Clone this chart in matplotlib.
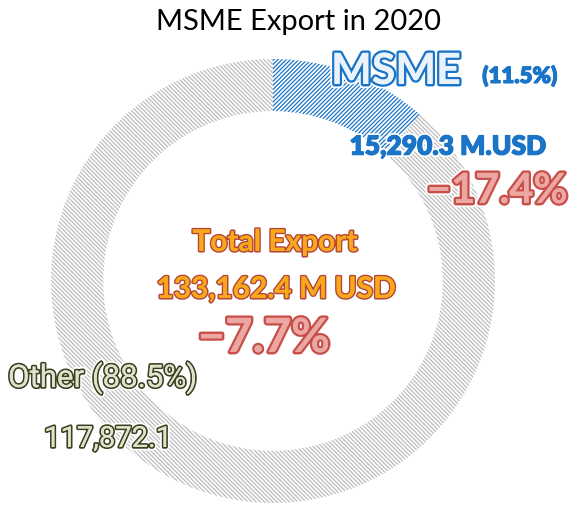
import matplotlib
matplotlib.use("Agg")
import matplotlib.pyplot as plt
import matplotlib.patheffects as pe

# ------------------------------------------------------------
# Data
# ------------------------------------------------------------
segments = ["MSME", "Other"]
shares = [11.5, 88.5]
values_musd = [15290.3, 117872.1]
total_musd = 133162.4
growth_msme = -17.4
growth_total = -7.7

title = "MSME Export in 2020"

# ------------------------------------------------------------
# Style
# ------------------------------------------------------------
BLUE = "#1a74c7"
GRAY = "#bdbdbd"
RED = "#c8504b"
ORANGE = "#f7a81c"
DARKRED = "#b4453a"
OLIVE = "#3a4020"

plt.rcParams["hatch.linewidth"] = 0.9
plt.rcParams["font.family"] = ["Lato", "DejaVu Sans"]

W, H = 571, 510
fig = plt.figure(figsize=(W / 100, H / 100), dpi=100)

# donut centre (273, 282) px, outer radius 222 px
cx, cy, r = 273, 282, 222
ax = fig.add_axes([(cx - r) / W, (H - cy - r) / H, 2 * r / W, 2 * r / H])

wedges, _ = ax.pie(
    shares,
    startangle=90,
    counterclock=False,
    radius=1.0,
    wedgeprops=dict(width=0.235, linewidth=0),
)
wedges[0].set_facecolor("white")
wedges[0].set_edgecolor(BLUE)
wedges[0].set_hatch("////////")
wedges[1].set_facecolor("white")
wedges[1].set_edgecolor(GRAY)
wedges[1].set_hatch("\\\\\\\\\\\\\\\\")
ax.set_xlim(-1, 1)
ax.set_ylim(-1, 1)
ax.axis("off")


def px(x, y):
    return x / W, 1 - y / H


def outline(fg, lw, halo="white"):
    return [pe.withStroke(linewidth=lw + 2.5, foreground=halo),
            pe.withStroke(linewidth=lw, foreground=fg), pe.Normal()]


fig.text(*px(298, 22), title, ha="center", va="center", fontsize=21, color="black")

# MSME labels
fig.text(*px(396, 72), segments[0], ha="center", va="center", fontsize=31,
         fontweight="bold", color="#eaf3fb", path_effects=outline(BLUE, 3.5))
fig.text(*px(520, 77), f"({shares[0]}%)", ha="center", va="center", fontsize=16,
         fontweight="heavy", color=BLUE, path_effects=outline(BLUE, 0.8))
fig.text(*px(448, 148), f"{values_musd[0]:,.1f} M.USD", ha="center", va="center",
         fontsize=19, fontweight="heavy", color=BLUE,
         path_effects=outline(BLUE, 0.8))
fig.text(*px(497, 192), f"\u2212{abs(growth_msme)}%", ha="center", va="center",
         fontsize=30, fontweight="bold", color="#eca7a3",
         path_effects=outline(RED, 3.5))

# Total in the centre
fig.text(*px(275, 243), "Total Export", ha="center", va="center", fontsize=21.5,
         fontweight="bold", color=ORANGE, path_effects=outline(DARKRED, 2.2))
fig.text(*px(276, 290), f"{total_musd:,.1f} M USD", ha="center", va="center",
         fontsize=21.5, fontweight="bold", color=ORANGE,
         path_effects=outline(DARKRED, 2.2))
fig.text(*px(264, 339), f"\u2212{abs(growth_total)}%", ha="center", va="center",
         fontsize=34, fontweight="bold", color="#eca7a3",
         path_effects=outline(RED, 3.5))

# Other labels
fig.text(*px(8, 379), f"{segments[1]} ({shares[1]}%)", ha="left", va="center",
         fontsize=22.5, family=["Roboto", "DejaVu Sans"], color="#dfe3cc",
         path_effects=outline(OLIVE, 2.5))
fig.text(*px(44, 440), f"{values_musd[1]:,.1f}", ha="left", va="center",
         fontsize=21, family=["Roboto", "DejaVu Sans"], color="#dfe3cc",
         path_effects=outline(OLIVE, 2.5))

fig.savefig("out.png", dpi=100, facecolor="white")
